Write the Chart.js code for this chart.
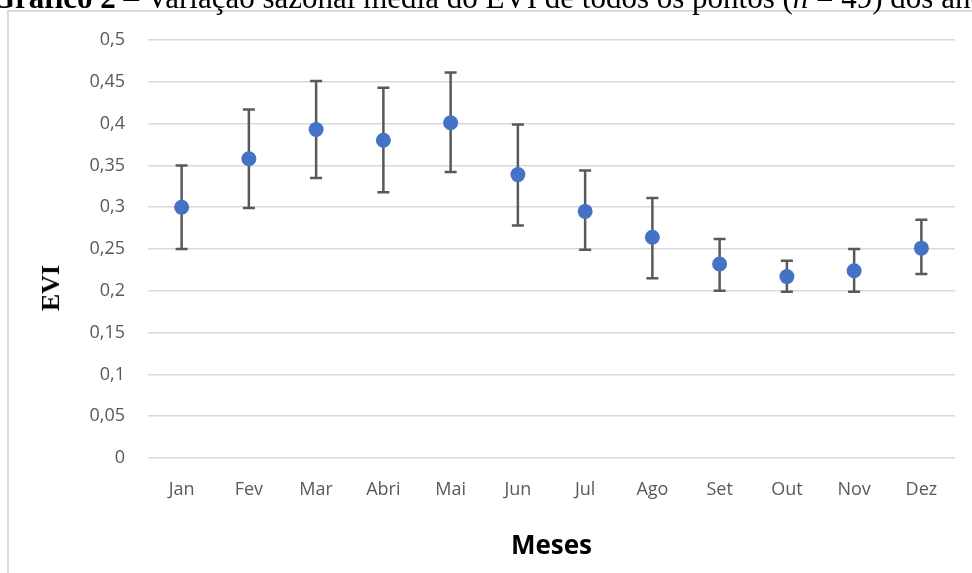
<!DOCTYPE html>
<html><head><meta charset="utf-8">
<script src="https://cdn.jsdelivr.net/npm/chart.js@4"></script>
<style>
html,body{margin:0;padding:0;background:#fff;width:972px;height:573px;overflow:hidden;position:relative}
#frame{position:absolute;left:7px;top:10px;width:1000px;height:600px;border-left:2px solid #d9d9d9;border-top:2px solid #d9d9d9;box-sizing:border-box}
#title{position:absolute;left:-9px;top:-18px;font-family:'Liberation Serif','Times New Roman',serif;font-size:31px;line-height:31px;white-space:nowrap;color:#000;z-index:2}
#ytitle{position:absolute;left:51px;top:288px;transform:translate(-50%,-50%) rotate(-90deg);font-family:'Liberation Serif','Times New Roman',serif;font-weight:bold;font-size:26px;line-height:26px;white-space:nowrap;color:#000;z-index:2}
#c{position:absolute;left:0;top:0}
</style></head>
<body>
<div id="frame"></div>
<div id="title"><b>Gráfico 2</b> – Variação sazonal média do EVI de todos os pontos (<i>n</i> = 49) dos anos</div>
<div id="ytitle">EVI</div>
<canvas id="c" width="972" height="573"></canvas>
<script>
const months = ['Jan','Fev','Mar','Abri','Mai','Jun','Jul','Ago','Set','Out','Nov','Dez'];
const evi    = [0.300, 0.358, 0.393, 0.380, 0.401, 0.339, 0.295, 0.264, 0.232, 0.217, 0.224, 0.251];
const upper  = [0.350, 0.417, 0.451, 0.443, 0.461, 0.399, 0.344, 0.311, 0.262, 0.236, 0.250, 0.285];
const lower  = [0.250, 0.299, 0.335, 0.318, 0.342, 0.278, 0.249, 0.215, 0.200, 0.199, 0.199, 0.220];
const yTicks = [0, 0.05, 0.1, 0.15, 0.2, 0.25, 0.3, 0.35, 0.4, 0.45, 0.5];

const errorBars = {
  id: 'errorBars',
  beforeDatasetsDraw(chart) {
    const {ctx, scales: {x, y}} = chart;
    ctx.save();
    ctx.strokeStyle = '#595959';
    ctx.lineWidth = 2.5;
    ctx.lineCap = 'butt';
    months.forEach((m, i) => {
      const px = x.getPixelForValue(i);
      const yt = y.getPixelForValue(upper[i]);
      const yb = y.getPixelForValue(lower[i]);
      ctx.beginPath();
      ctx.moveTo(px, yt); ctx.lineTo(px, yb);
      ctx.moveTo(px - 6, yt); ctx.lineTo(px + 6, yt);
      ctx.moveTo(px - 6, yb); ctx.lineTo(px + 6, yb);
      ctx.stroke();
    });
    ctx.restore();
  }
};

const tickFont = {family: "'Open Sans', 'Noto Sans', sans-serif", size: 18};

new Chart(document.getElementById('c'), {
  type: 'line',
  data: {
    labels: months,
    datasets: [{
      data: evi,
      showLine: false,
      pointRadius: 7.5,
      pointHoverRadius: 7.5,
      pointBackgroundColor: '#4472C4',
      pointBorderColor: '#4472C4',
      pointBorderWidth: 0
    }]
  },
  options: {
    responsive: false,
    animation: false,
    events: [],
    layout: {padding: {left: 0, top: 40, right: 17, bottom: 0}},
    plugins: {legend: {display: false}, tooltip: {enabled: false}, title: {display: false}},
    scales: {
      x: {
        type: 'category',
        offset: true,
        grid: {display: false, drawTicks: false},
        border: {display: false},
        ticks: {font: tickFont, color: '#595959', padding: 21, maxRotation: 0, autoSkip: false},
        title: {display: true, text: 'Meses', color: '#000',
                font: {family: "'Open Sans', 'Noto Sans', sans-serif", size: 26, weight: 'bold'},
                padding: {top: 0, bottom: 11}},
        afterFit(s) { s.height = 115; }
      },
      y: {
        min: 0, max: 0.5,
        grid: {color: '#d9d9d9', lineWidth: 1.5, drawTicks: false},
        border: {display: false},
        afterBuildTicks(s) { s.ticks = yTicks.map(v => ({value: v})); },
        ticks: {
          font: tickFont, color: '#595959', padding: 23,
          callback: v => String(Number(v.toFixed(2))).replace('.', ',')
        },
        afterFit(s) { s.width = 148; }
      }
    }
  },
  plugins: [errorBars]
});
</script>
</body></html>
